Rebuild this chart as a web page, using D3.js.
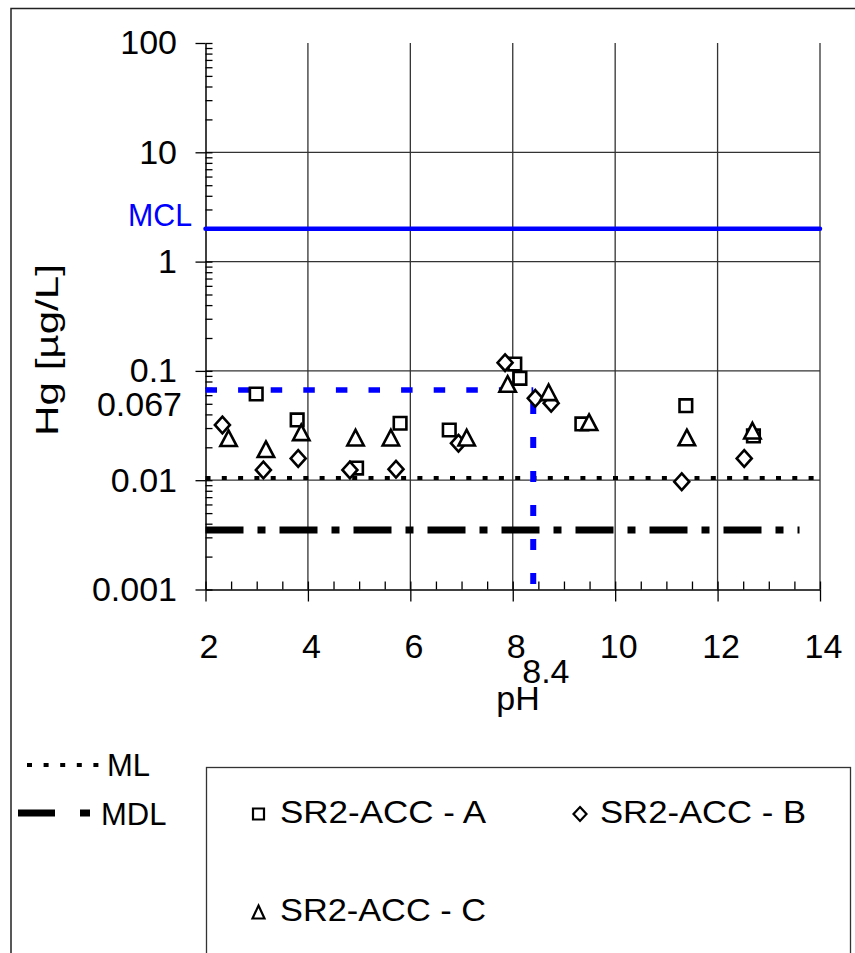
<!DOCTYPE html>
<html>
<head>
<meta charset="utf-8">
<script src="https://cdn.jsdelivr.net/npm/d3@7"></script>
<style>
    body { margin: 0; background: #fff; }
    svg { display: block; }
    text { font-family: "Liberation Sans", Arial, sans-serif; }
</style>
</head>
<body>
<div id="chart"></div>
<script>
// series values (pH, Hg in µg/L)
const phA = [2.99, 3.79, 4.95, 5.80, 6.76, 8.04, 8.14, 9.35, 11.38, 12.70];
const hgA = [0.0615, 0.0356, 0.0129, 0.0332, 0.0288, 0.1156, 0.0855, 0.0327, 0.0481, 0.0254];
const phB = [2.33, 3.13, 3.81, 4.82, 5.72, 6.94, 7.85, 8.44, 8.75, 11.30, 12.52];
const hgB = [0.032, 0.0124, 0.0158, 0.0124, 0.0126, 0.0218, 0.119, 0.0561, 0.0506, 0.00968, 0.0158];
const phC = [2.45, 3.18, 3.87, 4.93, 5.62, 7.10, 7.90, 8.70, 9.49, 11.40, 12.68];
const hgC = [0.0242, 0.0192, 0.0274, 0.0245, 0.0245, 0.0245, 0.0759, 0.0637, 0.0339, 0.0246, 0.0284];
const seriesNames = ['SR2-ACC - A', 'SR2-ACC - B', 'SR2-ACC - C'];

const yTicks = [0.001, 0.01, 0.1, 1, 10, 100];
const xTicks = [2, 4, 6, 8, 10, 12, 14];

// reference levels
const MCL = 2;
const ML = 0.0105;
const MDL = 0.0035;
const refHg = 0.067;
const refPh = 8.4;

const W = 855, H = 953;
const svg = d3.select('#chart').append('svg').attr('width', W).attr('height', H);

const x = d3.scaleLinear().domain([2, 14]).range([205.5, 820]);
const y = d3.scaleLog().domain([0.001, 100]).range([589.5, 43]);

// outer frame (only top and left visible)
svg.append('rect')
    .attr('x', 11).attr('y', 8.5).attr('width', 900).attr('height', 1000)
    .attr('fill', 'none').attr('stroke', '#222').attr('stroke-width', 1.5);

// gridlines
svg.selectAll('.hgrid')
    .data(yTicks.filter((d) => d > 0.001 && d < 100))
    .enter().append('line')
    .attr('x1', x(2)).attr('x2', x(14))
    .attr('y1', (d) => y(d)).attr('y2', (d) => y(d))
    .attr('stroke', '#333').attr('stroke-width', 1.3);

svg.selectAll('.vgrid')
    .data(xTicks.filter((d) => d > 2))
    .enter().append('line')
    .attr('x1', (d) => x(d)).attr('x2', (d) => x(d))
    .attr('y1', y(100)).attr('y2', y(0.001))
    .attr('stroke', '#333').attr('stroke-width', 1.3);

// minor tick positions
const yMinor = [];
yTicks.slice(0, -1).forEach((d) => {
    for (let k = 1; k < 10; k++) yMinor.push(d * k);
});
yMinor.push(100);
const xMinor = d3.range(2, 14.01, 0.5);

const styleAxis = (g) => {
    g.selectAll('path').attr('stroke', '#000').attr('stroke-width', 1.5);
    g.selectAll('line').attr('stroke', '#000').attr('stroke-width', 1.3);
};

// y axis
svg.append('g')
    .attr('transform', `translate(${x(2)},0)`)
    .call(d3.axisLeft(y).tickValues(yTicks).tickSize(10).tickSizeOuter(0).tickPadding(18.5)
        .tickFormat(d3.format('~g')))
    .call(styleAxis)
    .call((g) => g.selectAll('text').attr('font-size', 34).attr('fill', '#000'));

svg.append('g')
    .attr('transform', `translate(${x(2)},0)`)
    .call(d3.axisRight(y).tickValues(yMinor).tickSize(7).tickSizeOuter(0).tickFormat(''))
    .call(styleAxis)
    .call((g) => g.select('.domain').remove());

// x axis
svg.append('g')
    .attr('transform', `translate(0,${y(0.001)})`)
    .call(d3.axisBottom(x).tickValues(xTicks).tickSize(12).tickSizeOuter(0).tickPadding(32)
        .tickFormat(d3.format('d')))
    .call(styleAxis)
    .call((g) => g.selectAll('text').attr('font-size', 34).attr('fill', '#000').attr('dx', 3));

svg.append('g')
    .attr('transform', `translate(0,${y(0.001)})`)
    .call(d3.axisTop(x).tickValues(xMinor).tickSize(8).tickSizeOuter(0).tickFormat(''))
    .call(styleAxis)
    .call((g) => g.select('.domain').remove());

// extra labels
svg.append('text')
    .attr('x', 182).attr('y', y(refHg) + 26)
    .attr('text-anchor', 'end').attr('font-size', 34)
    .text(refHg);

svg.append('text')
    .attr('x', x(refPh) - 11).attr('y', 683)
    .attr('font-size', 34)
    .text(refPh);

svg.append('text')
    .attr('x', 518).attr('y', 710)
    .attr('text-anchor', 'middle').attr('font-size', 34)
    .text('pH');

svg.append('text')
    .attr('transform', 'translate(58,350) rotate(-90)')
    .attr('text-anchor', 'middle').attr('font-size', 32)
    .attr('textLength', 172).attr('lengthAdjust', 'spacingAndGlyphs')
    .text('Hg [µg/L]');

svg.append('text')
    .attr('x', 192).attr('y', y(MCL) - 3)
    .attr('text-anchor', 'end').attr('font-size', 32).attr('fill', '#0000ff')
    .attr('textLength', 64).attr('lengthAdjust', 'spacingAndGlyphs')
    .text('MCL');

// reference lines
svg.append('line')
    .attr('x1', x(2)).attr('x2', x(14))
    .attr('y1', y(MCL)).attr('y2', y(MCL))
    .attr('stroke', '#0000ff').attr('stroke-width', 4.5).attr('stroke-linecap', 'round');

svg.append('line')
    .attr('x1', x(2)).attr('x2', x(14))
    .attr('y1', y(ML)).attr('y2', y(ML))
    .attr('stroke', '#000').attr('stroke-width', 4).attr('stroke-dasharray', '5,11.3');

svg.append('line')
    .attr('x1', x(2)).attr('x2', x(13.6))
    .attr('y1', y(MDL)).attr('y2', y(MDL))
    .attr('stroke', '#000').attr('stroke-width', 7).attr('stroke-dasharray', '38,14,8,14');

svg.append('line')
    .attr('x1', x(2)).attr('x2', x(refPh))
    .attr('y1', y(refHg)).attr('y2', y(refHg))
    .attr('stroke', '#0000ff').attr('stroke-width', 5.5).attr('stroke-dasharray', '11.5,21.1');

svg.append('line')
    .attr('x1', x(refPh)).attr('x2', x(refPh))
    .attr('y1', y(refHg)).attr('y2', y(0.001))
    .attr('stroke', '#0000ff').attr('stroke-width', 6).attr('stroke-dasharray', '11,23')
    .attr('stroke-dashoffset', 21);

// marker shapes
const squarePath = (s) => `M${-s},${-s}H${s}V${s}H${-s}Z`;
const diamondPath = (w, h) => `M0,${-h}L${w},0L0,${h}L${-w},0Z`;
const trianglePath = (w, h) => `M0,${-h}L${w},${h}L${-w},${h}Z`;

const series = [
    { name: seriesNames[0], ph: phA, hg: hgA, shape: squarePath(6.3), legend: squarePath(5.5) },
    { name: seriesNames[1], ph: phB, hg: hgB, shape: diamondPath(7.5, 8.3), legend: diamondPath(6.5, 7) },
    { name: seriesNames[2], ph: phC, hg: hgC, shape: trianglePath(8.2, 7.8), legend: trianglePath(6, 6.5) }
];

series.forEach((s) => {
    svg.append('g').selectAll('path')
        .data(s.ph.map((p, i) => ({ ph: p, hg: s.hg[i] })))
        .enter().append('path')
        .attr('transform', (d) => `translate(${x(d.ph)},${y(d.hg)})`)
        .attr('d', s.shape)
        .attr('fill', '#fff').attr('stroke', '#000').attr('stroke-width', 2.6)
        .attr('stroke-linejoin', 'miter');
});

// legend for reference lines
svg.append('line')
    .attr('x1', 27).attr('x2', 100).attr('y1', 765).attr('y2', 765)
    .attr('stroke', '#000').attr('stroke-width', 4).attr('stroke-dasharray', '5,11.6');
svg.append('text').attr('x', 107).attr('y', 776).attr('font-size', 31).text('ML');

svg.append('line')
    .attr('x1', 18).attr('x2', 91).attr('y1', 813).attr('y2', 813)
    .attr('stroke', '#000').attr('stroke-width', 7).attr('stroke-dasharray', '37,25,10,30');
svg.append('text').attr('x', 101).attr('y', 825).attr('font-size', 31).text('MDL');

// series legend
svg.append('rect')
    .attr('x', 206.5).attr('y', 767.5).attr('width', 644).attr('height', 300)
    .attr('fill', 'none').attr('stroke', '#333').attr('stroke-width', 1.3);

const legendPos = [[258.5, 814, 280], [580, 814, 600], [258.5, 912, 280]];
series.forEach((s, i) => {
    const [mx, my, tx] = legendPos[i];
    svg.append('path')
        .attr('transform', `translate(${mx},${my})`)
        .attr('d', s.legend)
        .attr('fill', '#fff').attr('stroke', '#000').attr('stroke-width', 2.2);
    svg.append('text')
        .attr('x', tx).attr('y', my + 9)
        .attr('font-size', 32)
        .attr('textLength', 206).attr('lengthAdjust', 'spacingAndGlyphs')
        .text(s.name);
});
</script>
</body>
</html>
